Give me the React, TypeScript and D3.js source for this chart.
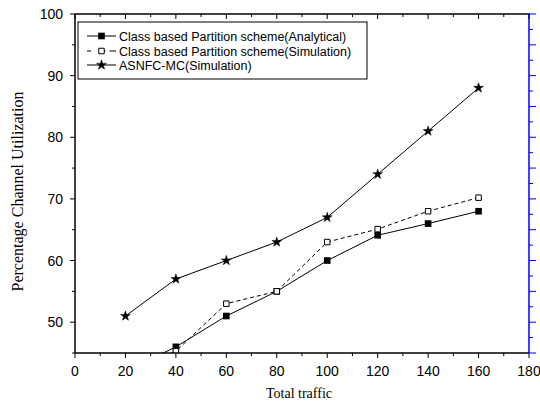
import React from 'react';
import * as d3 from 'd3';

const traffic = [20, 40, 60, 80, 100, 120, 140, 160];
const analytical = [42, 46, 51, 55, 60, 64.1, 66, 68];
const simulation = [42.5, 45.3, 53, 55, 63, 65.1, 68, 70.2];
const asnfc = [51, 57, 60, 63, 67, 74, 81, 88];
const seriesNames = [
  'Class based Partition scheme(Analytical)',
  'Class based Partition scheme(Simulation)',
  'ASNFC-MC(Simulation)',
];
const xTicks = [0, 20, 40, 60, 80, 100, 120, 140, 160, 180];
const xMinor = [10, 30, 50, 70, 90, 110, 130, 150, 170];
const yTicks = [50, 60, 70, 80, 90, 100];
const yMinor = [45, 55, 65, 75, 85, 95];
const rightMajor = [45, 50, 55, 60, 65, 70, 75, 80, 85, 90, 95, 100];
const rightMinor = [47.5, 52.5, 57.5, 62.5, 67.5, 72.5, 77.5, 82.5, 87.5, 92.5, 97.5];
const xTitle = 'Total traffic';
const yTitle = 'Percentage Channel Utilization';

const W = 540, H = 404;
const L = 75, R = 529, T = 14, B = 353;

export default function App() {
  const x = d3.scaleLinear().domain([0, 180]).range([L, R]);
  const y = d3.scaleLinear().domain([45, 100]).range([B, T]);
  const line = d3.line<number>().x((_, i) => x(traffic[i])).y(d => y(d));
  const star = d3.symbol().type(d3.symbolStar).size(30)()!;
  const sq = d3.symbol().type(d3.symbolSquare).size(44)()!;
  const osq = d3.symbol().type(d3.symbolSquare).size(30)()!;
  const sans = '"Liberation Sans", Arial, sans-serif';
  const serif = '"Liberation Serif", "Times New Roman", serif';
  const legY = [36, 51, 65];

  return (
    <svg width={W} height={H} style={{ position: 'absolute', left: 0, top: 0, background: '#fff' }}>
      <defs>
        <clipPath id="plot">
          <rect x={L} y={T} width={R - L} height={B - T} />
        </clipPath>
      </defs>
      <rect x={0} y={0} width={W} height={H} fill="#fff" />
      {/* data */}
      <g clipPath="url(#plot)">
        <path d={line(asnfc)!} fill="none" stroke="#000" strokeWidth={1} />
        <path d={line(simulation)!} fill="none" stroke="#000" strokeWidth={1} strokeDasharray="4,3" />
        <path d={line(analytical)!} fill="none" stroke="#000" strokeWidth={1} />
        {asnfc.map((v, i) => (
          <path key={'s' + i} d={star} transform={`translate(${x(traffic[i])},${y(v)})`} fill="#000" stroke="#000" strokeWidth={0.5} />
        ))}
        {analytical.map((v, i) => (
          <path key={'a' + i} d={sq} transform={`translate(${x(traffic[i])},${y(v)})`} fill="#000" />
        ))}
        {simulation.map((v, i) => (
          <path key={'b' + i} d={osq} transform={`translate(${x(traffic[i])},${y(v)})`} fill="#fff" stroke="#000" strokeWidth={1} />
        ))}
      </g>
      {/* axes frame */}
      <line x1={L} y1={T} x2={R} y2={T} stroke="#000" strokeWidth={1.5} />
      <line x1={L} y1={T} x2={L} y2={B} stroke="#000" strokeWidth={1.5} />
      <line x1={L} y1={B} x2={R} y2={B} stroke="#000" strokeWidth={1.5} />
      <line x1={R} y1={T - 1} x2={R} y2={B} stroke="#0000ff" strokeWidth={1.5} />
      {/* bottom ticks */}
      {xTicks.map(t => (
        <g key={'xt' + t}>
          <line x1={x(t)} x2={x(t)} y1={B} y2={B + 5} stroke="#000" strokeWidth={1} />
          <line x1={x(t)} x2={x(t)} y1={T} y2={T + 5} stroke="#000" strokeWidth={1} />
          <text x={x(t)} y={376} textAnchor="middle" fontFamily={sans} fontSize={14}>{t}</text>
        </g>
      ))}
      {xMinor.map(t => (
        <g key={'xm' + t}>
          <line x1={x(t)} x2={x(t)} y1={B} y2={B + 3} stroke="#000" strokeWidth={1} />
          <line x1={x(t)} x2={x(t)} y1={T} y2={T + 3} stroke="#000" strokeWidth={1} />
        </g>
      ))}
      {/* left ticks */}
      {yTicks.map(t => (
        <g key={'yt' + t}>
          <line x1={L - 5} x2={L} y1={y(t)} y2={y(t)} stroke="#000" strokeWidth={1} />
          <text x={63} y={y(t)} dy="0.36em" textAnchor="end" fontFamily={sans} fontSize={14}>{t}</text>
        </g>
      ))}
      {yMinor.map(t => (
        <line key={'ym' + t} x1={L - 3} x2={L} y1={y(t)} y2={y(t)} stroke="#000" strokeWidth={1} />
      ))}
      {/* right ticks (blue) */}
      {rightMajor.map(t => (
        <line key={'rM' + t} x1={R} x2={R + 7} y1={y(t)} y2={y(t)} stroke="#0000ff" strokeWidth={1} />
      ))}
      {rightMinor.map(t => (
        <line key={'rm' + t} x1={R} x2={R + 4} y1={y(t)} y2={y(t)} stroke="#0000ff" strokeWidth={1} />
      ))}
      {/* titles */}
      <text x={(L + R) / 2 - 3} y={398} textAnchor="middle" fontFamily={serif} fontSize={14}>{xTitle}</text>
      <text transform="translate(23,191.5) rotate(-90)" textAnchor="middle" fontFamily={serif} fontSize={16}>{yTitle}</text>
      {/* legend */}
      <rect x={78} y={22} width={289} height={57} fill="#fff" stroke="#000" strokeWidth={1} />
      <line x1={87} x2={116} y1={legY[0]} y2={legY[0]} stroke="#000" strokeWidth={1} />
      <path d={sq} transform={`translate(101.5,${legY[0]})`} fill="#000" />
      <line x1={87} x2={116} y1={legY[1]} y2={legY[1]} stroke="#000" strokeWidth={1} strokeDasharray="4,10.5,4" />
      <path d={osq} transform={`translate(101.5,${legY[1]})`} fill="#fff" stroke="#000" strokeWidth={1} />
      <line x1={87} x2={116} y1={legY[2]} y2={legY[2]} stroke="#000" strokeWidth={1} />
      <path d={star} transform={`translate(101.5,${legY[2]})`} fill="#000" stroke="#000" strokeWidth={0.5} />
      {seriesNames.map((n, i) => (
        <text key={n} x={119} y={legY[i]} dy="0.36em" fontFamily={sans} fontSize={12.5}>{n}</text>
      ))}
    </svg>
  );
}
